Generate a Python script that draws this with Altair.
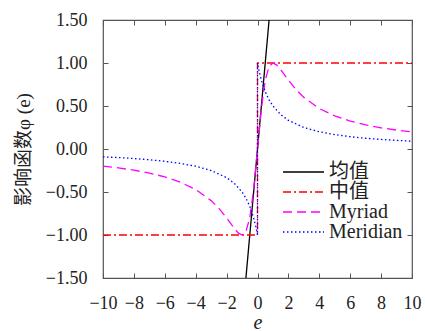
import altair as alt
import pandas as pd

# ---------------- data ----------------
series_names = ["均值", "中值", "Myriad", "Meridian"]
series_colors = ["#000000", "#ff0000", "#ff00ff", "#0000ff"]
series_dashes = [[1, 0], [8, 3, 2, 3], [9, 5], [1.5, 2.5]]

mean_e = [-0.75, 0.75]
mean_v = [-1.5, 1.5]

median_e = [-10, 0, 0, 10]
median_v = [-1.0, -1.0, 1.0, 1.0]

myriad_e = [-10, -9, -8, -7, -6, -5, -4, -3, -2.5, -2, -1.5, -1.25, -1, -0.75,
            -0.5, -0.25, 0, 0.25, 0.5, 0.75, 1, 1.25, 1.5, 2, 2.5, 3, 4, 5, 6,
            7, 8, 9, 10]
myriad_v = [-0.198, -0.220, -0.246, -0.280, -0.324, -0.385, -0.471, -0.600,
            -0.690, -0.800, -0.923, -0.976, -1.000, -0.960, -0.800, -0.471,
            0.0, 0.471, 0.800, 0.960, 1.000, 0.976, 0.923, 0.800, 0.690,
            0.600, 0.471, 0.385, 0.324, 0.280, 0.246, 0.220, 0.198]

meridian_e = [-10, -9, -8, -7, -6, -5, -4, -3, -2, -1.5, -1, -0.75, -0.5,
              -0.25, -0.1, 0, 0, 0.1, 0.25, 0.5, 0.75, 1, 1.5, 2, 3, 4, 5, 6,
              7, 8, 9, 10]
meridian_v = [-0.091, -0.100, -0.111, -0.125, -0.143, -0.167, -0.200, -0.250,
              -0.333, -0.400, -0.500, -0.571, -0.667, -0.800, -0.909, -1.0,
              1.0, 0.909, 0.800, 0.667, 0.571, 0.500, 0.400, 0.333, 0.250,
              0.200, 0.167, 0.143, 0.125, 0.111, 0.100, 0.091]

x_ticks = [-10, -8, -6, -4, -2, 0, 2, 4, 6, 8, 10]
y_ticks = [-1.5, -1.0, -0.5, 0.0, 0.5, 1.0, 1.5]

# ---------------- table ----------------
rows = []
for name, es, vs in [("均值", mean_e, mean_v), ("中值", median_e, median_v),
                     ("Myriad", myriad_e, myriad_v),
                     ("Meridian", meridian_e, meridian_v)]:
    for i, (e, v) in enumerate(zip(es, vs)):
        rows.append({"e": e, "v": v, "series": name, "ord": i})
df = pd.DataFrame(rows)

AX = "#555555"
LAB = "#222222"
SERIF = "Liberation Serif, Noto Sans CJK SC"

xscale = alt.Scale(domain=[-10, 10], nice=False, zero=False)
yscale = alt.Scale(domain=[-1.5, 1.5], nice=False, zero=False)

legend = alt.Legend(
    title=None, orient="none", legendX=179, legendY=142,
    symbolType="stroke", symbolSize=1681, symbolStrokeWidth=1.3,
    labelFont=SERIF, labelFontSize=20, labelColor=LAB, labelOffset=4,
    clipHeight=20, rowPadding=0, padding=0, labelLimit=200,
)

lines = alt.Chart(df).mark_line(strokeWidth=1.3, clip=True).encode(
    x=alt.X("e:Q", scale=xscale, title="e",
            axis=alt.Axis(orient="bottom", values=x_ticks, format="d",
                          offset=-5, tickSize=5, labelOverlap=False,
                          labelFlush=False, labelFontSize=18,
                          domain=False, grid=False, labelPadding=16,
                          titleFontStyle="italic", titlePadding=0,
                          titleFont=SERIF, titleFontSize=20,
                          titleFontWeight="normal")),
    y=alt.Y("v:Q", scale=yscale, title="影响函数φ (e)",
            axis=alt.Axis(orient="left", values=y_ticks, format=".2f",
                          offset=-5, tickSize=5, labelOverlap=False,
                          labelFlush=False,
                          domain=False, grid=False, labelPadding=16,
                          titlePadding=12, titleFont=SERIF, titleFontSize=19,
                          titleFontWeight="normal")),
    color=alt.Color("series:N", scale=alt.Scale(domain=series_names,
                                                range=series_colors),
                    legend=legend),
    strokeDash=alt.StrokeDash("series:N",
                              scale=alt.Scale(domain=series_names,
                                              range=series_dashes),
                              legend=legend),
    order="ord:Q",
)

mirror = alt.Chart(df).mark_line(opacity=0).encode(
    x=alt.X("e:Q", scale=xscale,
            axis=alt.Axis(orient="top", values=x_ticks, labels=False,
                          offset=-5, tickSize=5, domain=False, grid=False,
                          title=None)),
    y=alt.Y("v:Q", scale=yscale,
            axis=alt.Axis(orient="right", values=y_ticks, labels=False,
                          offset=-5, tickSize=5, domain=False, grid=False,
                          title=None)),
)

chart = alt.layer(lines, mirror).resolve_axis(
    x="independent", y="independent"
).properties(
    width=309, height=258,
    padding={"left": 103, "top": 20, "right": 13, "bottom": 53},
    autosize=alt.AutoSizeParams(type="none"),
    background="white",
).configure_view(
    stroke=AX, strokeWidth=1.2,
).configure_axis(
    labelFont=SERIF, labelFontSize=18, labelColor=LAB,
    tickColor=AX, tickWidth=1, titleColor=LAB,
)

chart.save("out.html", embed_options={"renderer": "svg", "actions": False})
